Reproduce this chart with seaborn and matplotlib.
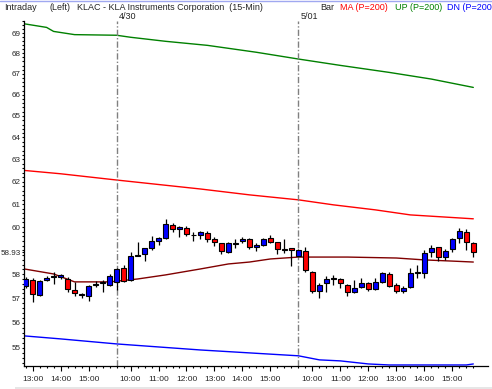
import numpy as np
import pandas as pd
import matplotlib
matplotlib.use("Agg")
import matplotlib.pyplot as plt
import seaborn as sns
from matplotlib.ticker import FixedLocator, FixedFormatter, NullFormatter
from matplotlib.lines import Line2D
from matplotlib.patches import Rectangle

# --- Data ---
sessions = [("2003-04-29 12:45", 13), ("2003-04-30 09:30", 26), ("2003-05-01 09:30", 26)]
day_labels = ["4/30", "5/01"]

opens = [57.49, 57.77, 57.12, 57.77, 57.90, 57.88, 57.81, 57.36, 57.14, 57.08, 57.54, 57.62, 57.56,
         57.68, 58.26, 57.77, 58.78, 58.85, 59.10, 59.40, 59.53, 60.09, 59.92, 59.96, 59.68, 59.66,
         59.75, 59.49, 59.32, 58.93, 59.27, 59.40, 59.49, 59.14, 59.23, 59.53, 59.36, 59.08, 59.10,
         58.76, 58.97, 58.10, 57.32, 57.64, 57.79, 57.81, 57.56, 57.28, 57.48, 57.64, 57.40, 57.68,
         58.01, 57.56, 57.32, 57.48, 58.04, 58.06, 58.93, 59.14, 58.72, 59.06, 59.53, 59.79, 59.32]
highs = [57.89, 57.85, 57.77, 57.93, 58.10, 58.00, 57.89, 57.68, 57.24, 57.56, 57.72, 57.77, 58.01,
         58.26, 58.39, 58.93, 59.36, 59.12, 59.62, 59.57, 60.36, 60.18, 60.05, 60.05, 59.79, 59.83,
         59.83, 59.57, 59.32, 59.36, 59.49, 59.57, 59.53, 59.32, 59.53, 59.66, 59.38, 59.49, 59.12,
         59.06, 59.14, 58.14, 57.64, 57.93, 57.97, 57.85, 57.60, 57.77, 57.85, 57.68, 57.85, 58.08,
         58.10, 57.64, 57.52, 58.26, 58.39, 59.02, 59.23, 59.16, 59.06, 59.53, 59.96, 59.92, 59.36]
lows = [57.44, 56.87, 57.08, 57.72, 57.60, 57.82, 57.28, 57.08, 57.00, 56.91, 57.46, 57.28, 57.52,
        57.36, 57.68, 57.72, 58.76, 58.55, 59.02, 59.23, 59.49, 59.79, 59.57, 59.62, 59.40, 59.49,
        59.36, 59.19, 58.85, 58.89, 59.10, 59.32, 59.06, 58.97, 59.19, 59.32, 58.85, 58.89, 58.35,
        58.72, 58.10, 57.20, 57.00, 57.28, 57.56, 57.44, 57.08, 57.24, 57.44, 57.32, 57.36, 57.64,
        57.48, 57.24, 57.24, 57.44, 57.85, 57.85, 58.72, 58.55, 58.60, 58.93, 59.32, 59.02, 58.72]
closes = [57.81, 57.16, 57.72, 57.85, 57.92, 57.95, 57.40, 57.20, 57.17, 57.52, 57.58, 57.66, 57.93,
          58.22, 57.72, 58.76, 58.82, 59.10, 59.40, 59.53, 60.13, 59.92, 60.01, 59.70, 59.64, 59.79,
          59.49, 59.36, 58.97, 59.32, 59.32, 59.49, 59.14, 59.23, 59.49, 59.36, 59.06, 59.04, 59.02,
          59.02, 58.18, 57.32, 57.56, 57.81, 57.83, 57.64, 57.28, 57.44, 57.64, 57.40, 57.68, 58.06,
          57.52, 57.32, 57.44, 58.06, 58.08, 58.89, 59.10, 58.72, 58.97, 59.49, 59.83, 59.36, 58.93]

up_idx = [-0.2, 3, 4, 7, 13, 15, 20, 26, 33, 39, 45, 52, 58, 64]
up_vals = [69.46, 69.28, 69.08, 68.92, 68.89, 68.79, 68.59, 68.39, 68.05, 67.72, 67.41, 67.07, 66.75, 66.35]
env_idx = [-0.2, 5, 13, 25, 32, 39, 44, 50, 55, 64]
env_vals = [62.50, 62.35, 62.07, 61.67, 61.41, 61.19, 60.97, 60.75, 60.53, 60.36]
ma_idx = [-0.2, 4, 7, 12, 16, 20, 25, 29, 32, 35, 39, 46, 53, 57, 61, 64]
ma_vals = [58.22, 58.01, 57.68, 57.68, 57.80, 57.97, 58.22, 58.43, 58.51, 58.64, 58.72, 58.72,
           58.68, 58.60, 58.55, 58.51]
dn_idx = [-0.2, 5, 13, 25, 39, 42, 45, 49, 52, 63, 64]
dn_vals = [55.48, 55.36, 55.16, 54.92, 54.69, 54.53, 54.49, 54.37, 54.33, 54.33, 54.37]

ytick_vals = [55, 56, 57, 58, 58.93, 60, 61, 62, 63, 64, 65, 66, 67, 68, 69]
ytick_labels = ["55", "56", "57", "58", "58.93", "60", "61", "62", "63", "64", "65", "66", "67", "68", "69"]

# --- Build frame ---
times = pd.DatetimeIndex(np.concatenate(
    [pd.date_range(s, periods=n, freq="15min").values for s, n in sessions]))
df = pd.DataFrame({"t": times, "open": opens, "high": highs, "low": lows, "close": closes})
df["idx"] = np.arange(len(df))
df["up"] = df["close"] >= df["open"]
day_starts = df.index[df["t"].dt.date != df["t"].dt.date.shift()].tolist()[1:]
hour_rows = df[df["t"].dt.minute == 0]

sns.set_style("ticks")
plt.rcParams["font.family"] = ["Liberation Sans", "DejaVu Sans"]

fig = plt.figure(figsize=(4.92, 3.89), dpi=100)
ax = fig.add_axes([23.5 / 492, 1 - 366 / 389, (488 - 23.5) / 492, (366 - 21) / 389])

# envelope lines
sns.lineplot(x=up_idx, y=up_vals, color="#008000", lw=1, ax=ax)
sns.lineplot(x=env_idx, y=env_vals, color="#ff0000", lw=1, ax=ax)
sns.lineplot(x=ma_idx, y=ma_vals, color="#800000", lw=1, ax=ax)
sns.lineplot(x=dn_idx, y=dn_vals, color="#0000ff", lw=1, ax=ax)

# candles
ax.vlines(df["idx"], df["low"], df["high"], color="black", lw=0.9, zorder=3)
ax.bar(df["idx"], df["close"] - df["open"], bottom=df["open"], width=0.72,
       color=np.where(df["up"], "#0000ff", "#ff0000"), edgecolor="black", linewidth=0.8, zorder=4)

# day separators
for d, lab in zip(day_starts, day_labels):
    ax.axvline(d, color="#808080", lw=1, linestyle=(0, (4.5, 1.5, 1, 1.5)), zorder=2)
    ax.text(d + 0.35, 1.013, lab, transform=ax.get_xaxis_transform(), fontsize=6.5,
            ha="left", va="center", clip_on=False)

ax.set_yscale("log")
ax.set_ylim(54.29, 69.6)
ax.set_xlim(-0.3, 66.1)
ax.yaxis.set_major_locator(FixedLocator(ytick_vals))
ax.yaxis.set_major_formatter(FixedFormatter(ytick_labels))
ax.yaxis.set_minor_locator(FixedLocator(np.arange(54.4, 69.61, 0.2)))
ax.yaxis.set_minor_formatter(NullFormatter())
ax.xaxis.set_major_locator(FixedLocator(hour_rows["idx"].tolist()))
ax.xaxis.set_major_formatter(FixedFormatter(hour_rows["t"].dt.strftime("%H:%M").tolist()))
ax.xaxis.set_minor_locator(FixedLocator(df["idx"].tolist()))
ax.tick_params(axis="y", which="major", labelsize=5.8, length=1.8, width=0.8, color="black", pad=0.3)
ax.tick_params(axis="x", which="major", labelsize=6, length=3.5, width=0.8, color="black", pad=4)
ax.tick_params(axis="both", which="minor", length=1.6, width=0.8, color="black")
ax.set_xlabel("")
ax.set_ylabel("")
for s in ["top", "right"]:
    ax.spines[s].set_visible(False)
for s in ["left", "bottom"]:
    ax.spines[s].set_color("black")
    ax.spines[s].set_linewidth(0.9)

# header
hy = 1 - 7 / 389
fig.text(4 / 492, hy, "Intraday", fontsize=6.5, va="center")
fig.text(50 / 492, hy, "(Left)", fontsize=6.5, va="center")
fig.text(77 / 492, hy, "KLAC - KLA Instruments Corporation  (15-Min)", fontsize=6.5, va="center")
fig.text(320 / 492, hy, "Bar", fontsize=6.5, va="center")
fig.text(340 / 492, hy, "MA (P=200)", fontsize=6.5, va="center", color="#ff0000")
fig.text(395 / 492, hy, "UP (P=200)", fontsize=6.5, va="center", color="#008000")
fig.text(447 / 492, hy, "DN (P=200", fontsize=6.5, va="center", color="#0000ff")
fig.add_artist(Line2D([0, 1], [1 - 0.5 / 389] * 2, color="#a0a8f0", lw=1))
fig.add_artist(Rectangle((15 / 492, 0), 1, 2.5 / 389, color="#e6e6e6", lw=0))

fig.savefig("out.png", dpi=100)
